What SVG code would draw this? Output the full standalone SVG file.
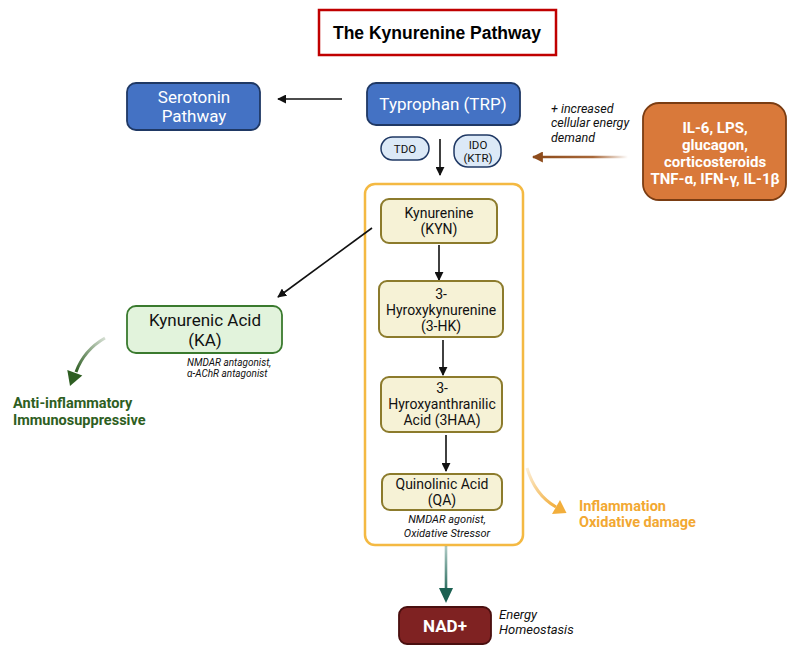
<svg xmlns="http://www.w3.org/2000/svg" width="800" height="654" viewBox="0 0 800 654">
<style>
text{font-family:Roboto,"Liberation Sans",sans-serif;}
.w{fill:#fff;}
.t{fill:#111;}
.it{font-style:italic;fill:#111;}
.ylw{fill:#f6f2d6;stroke:#8c7b2c;stroke-width:2;}
.blk{stroke:#111;stroke-width:1.6;fill:none;}
</style>
<defs>
<marker id="ah" viewBox="0 0 10 10" refX="9" refY="5" markerWidth="9" markerHeight="9" markerUnits="userSpaceOnUse" orient="auto">
<path d="M0,0 L10,5 L0,10 Z" fill="#111"/>
</marker>
<marker id="ahBrown" viewBox="0 0 10 10" refX="9" refY="5" markerWidth="11" markerHeight="11" markerUnits="userSpaceOnUse" orient="auto">
<path d="M0,0 L10,5 L0,10 Z" fill="#8e4c1c"/>
</marker>
<linearGradient id="gBrown" gradientUnits="userSpaceOnUse" x1="540" y1="0" x2="628" y2="0">
<stop offset="0" stop-color="#8e4c1c"/>
<stop offset="0.6" stop-color="#a8683a"/>
<stop offset="1" stop-color="#a8683a" stop-opacity="0"/>
</linearGradient>
<linearGradient id="gTeal" gradientUnits="userSpaceOnUse" x1="0" y1="546" x2="0" y2="595">
<stop offset="0" stop-color="#1f6b5c" stop-opacity="0.35"/>
<stop offset="1" stop-color="#1c6152"/>
</linearGradient>
<linearGradient id="gGreen" gradientUnits="userSpaceOnUse" x1="105" y1="338" x2="76" y2="372">
<stop offset="0" stop-color="#2e5e22" stop-opacity="0.2"/>
<stop offset="1" stop-color="#2e5e22"/>
</linearGradient>
<linearGradient id="gOrange" gradientUnits="userSpaceOnUse" x1="527" y1="468" x2="556" y2="507">
<stop offset="0" stop-color="#f2ae3c" stop-opacity="0.2"/>
<stop offset="1" stop-color="#f2ae3c"/>
</linearGradient>
</defs>

<g id="title">
<rect x="319" y="10" width="237" height="45" fill="#fff" stroke="#c00000" stroke-width="2.5"/>
<text x="437" y="39" text-anchor="middle" font-weight="bold" font-size="17.5" style="font-family:'Liberation Sans',sans-serif" fill="#000">The Kynurenine Pathway</text>
</g>

<g id="container">
<rect x="365" y="184" width="158" height="361" rx="10" fill="#fff" stroke="#f4b942" stroke-width="2.5"/>
</g>

<g id="connectors">
<line class="blk" x1="342" y1="99" x2="278" y2="99" marker-end="url(#ah)"/>
<line class="blk" x1="440" y1="139" x2="440" y2="175" marker-end="url(#ah)"/>
<line x1="628" y1="157" x2="533" y2="157" stroke="url(#gBrown)" stroke-width="2.5" marker-end="url(#ahBrown)"/>
<line class="blk" x1="372" y1="228" x2="278" y2="297" marker-end="url(#ah)"/>
<line class="blk" x1="439" y1="245" x2="439" y2="280" marker-end="url(#ah)"/>
<line class="blk" x1="443" y1="340" x2="443" y2="375" marker-end="url(#ah)"/>
<line class="blk" x1="446" y1="435" x2="446" y2="471" marker-end="url(#ah)"/>
<line x1="446" y1="546" x2="446" y2="590" stroke="url(#gTeal)" stroke-width="2.6"/>
<polygon points="439,588 453,588 446,603" fill="#1c6152"/>
<path d="M105,338 Q84,350 76,372" fill="none" stroke="url(#gGreen)" stroke-width="3"/>
<polygon points="70,386 82.3,375.5 67.3,370.1" fill="#2e5e22"/>
<path d="M527,468 Q535,495 556,507" fill="none" stroke="url(#gOrange)" stroke-width="3"/>
<polygon points="566.5,513 552,514 560,500" fill="#f2ae3c"/>
</g>

<g id="serotonin">
<rect x="127" y="83" width="133" height="47" rx="9" fill="#4472c4" stroke="#1f3864" stroke-width="1.8"/>
<text class="w" x="194" y="103" text-anchor="middle" font-size="17">Serotonin</text>
<text class="w" x="194" y="122" text-anchor="middle" font-size="17">Pathway</text>
</g>

<g id="tryptophan">
<rect x="367" y="83" width="153" height="42" rx="9" fill="#4472c4" stroke="#1f3864" stroke-width="1.8"/>
<text class="w" x="443" y="110" text-anchor="middle" font-size="17">Typrophan (TRP)</text>
</g>

<g id="tdo">
<rect x="381" y="137" width="48" height="23" rx="11.5" fill="#dce9f7" stroke="#1f3864" stroke-width="1.5"/>
<text class="t" x="405" y="153" text-anchor="middle" font-size="11.5">TDO</text>
</g>

<g id="ido">
<rect x="454" y="135" width="47" height="32" rx="14" fill="#dce9f7" stroke="#1f3864" stroke-width="1.5"/>
<text class="t" x="478" y="149" text-anchor="middle" font-size="11.5">IDO</text>
<text class="t" x="478" y="162" text-anchor="middle" font-size="11.5">(KTR)</text>
</g>

<g id="energy-demand">
<text class="it" x="551" y="113" font-size="12.5">+ increased</text>
<text class="it" x="551" y="127" font-size="12.5">cellular energy</text>
<text class="it" x="551" y="142" font-size="12.5">demand</text>
</g>

<g id="cytokines">
<rect x="643" y="103" width="143" height="97" rx="16" fill="#d9793a" stroke="#7a3c12" stroke-width="1.8"/>
<text class="w" x="715" y="133" text-anchor="middle" font-size="15" font-weight="bold">IL-6, LPS,</text>
<text class="w" x="715" y="150" text-anchor="middle" font-size="15" font-weight="bold">glucagon,</text>
<text class="w" x="715" y="167" text-anchor="middle" font-size="15" font-weight="bold">corticosteroids</text>
<text class="w" x="715" y="184" text-anchor="middle" font-size="15" font-weight="bold">TNF-α, IFN-γ, IL-1β</text>
</g>

<g id="kynurenine">
<rect class="ylw" x="381" y="199" width="116" height="44" rx="8"/>
<text class="t" x="439" y="218" text-anchor="middle" font-size="14">Kynurenine</text>
<text class="t" x="439" y="234" text-anchor="middle" font-size="14">(KYN)</text>
</g>

<g id="hk">
<rect class="ylw" x="379" y="281" width="124" height="56" rx="8"/>
<text class="t" x="441" y="299" text-anchor="middle" font-size="14">3-</text>
<text class="t" x="441" y="315" text-anchor="middle" font-size="14">Hyroxykynurenine</text>
<text class="t" x="441" y="331" text-anchor="middle" font-size="14">(3-HK)</text>
</g>

<g id="haa">
<rect class="ylw" x="381" y="377" width="121" height="55" rx="8"/>
<text class="t" x="442" y="393" text-anchor="middle" font-size="14">3-</text>
<text class="t" x="442" y="409" text-anchor="middle" font-size="14">Hyroxyanthranilic</text>
<text class="t" x="442" y="425" text-anchor="middle" font-size="14">Acid (3HAA)</text>
</g>

<g id="qa">
<rect class="ylw" x="382" y="474" width="120" height="36" rx="8"/>
<text class="t" x="442" y="489" text-anchor="middle" font-size="14">Quinolinic Acid</text>
<text class="t" x="442" y="505" text-anchor="middle" font-size="14">(QA)</text>
<text class="it" x="447" y="523" text-anchor="middle" font-size="11">NMDAR agonist,</text>
<text class="it" x="447" y="537" text-anchor="middle" font-size="11">Oxidative Stressor</text>
</g>

<g id="nad">
<rect x="399" y="607" width="92" height="37" rx="8" fill="#7f2222" stroke="#4a0f0f" stroke-width="1.8"/>
<text class="w" x="445" y="632" text-anchor="middle" font-size="17" font-weight="bold">NAD+</text>
<text class="it" x="499" y="619" font-size="13">Energy</text>
<text class="it" x="499" y="634" font-size="13">Homeostasis</text>
</g>

<g id="kynurenic-acid">
<rect x="127" y="306" width="155" height="47" rx="9" fill="#e2f3dc" stroke="#3a7a2e" stroke-width="1.8"/>
<text class="t" x="205" y="326" text-anchor="middle" font-size="17">Kynurenic Acid</text>
<text class="t" x="205" y="346" text-anchor="middle" font-size="17">(KA)</text>
<text class="it" x="187" y="366" font-size="10">NMDAR antagonist,</text>
<text class="it" x="187" y="377" font-size="10">α-AChR antagonist</text>
</g>

<g id="anti-inflammatory">
<text x="13" y="408" font-size="14.5" font-weight="bold" fill="#2e5e22">Anti-inflammatory</text>
<text x="13" y="425" font-size="14.5" font-weight="bold" fill="#2e5e22">Immunosuppressive</text>
</g>

<g id="inflammation">
<text x="579" y="511" font-size="14.5" font-weight="bold" fill="#f2a832">Inflammation</text>
<text x="579" y="527" font-size="14.5" font-weight="bold" fill="#f2a832">Oxidative damage</text>
</g>
</svg>
